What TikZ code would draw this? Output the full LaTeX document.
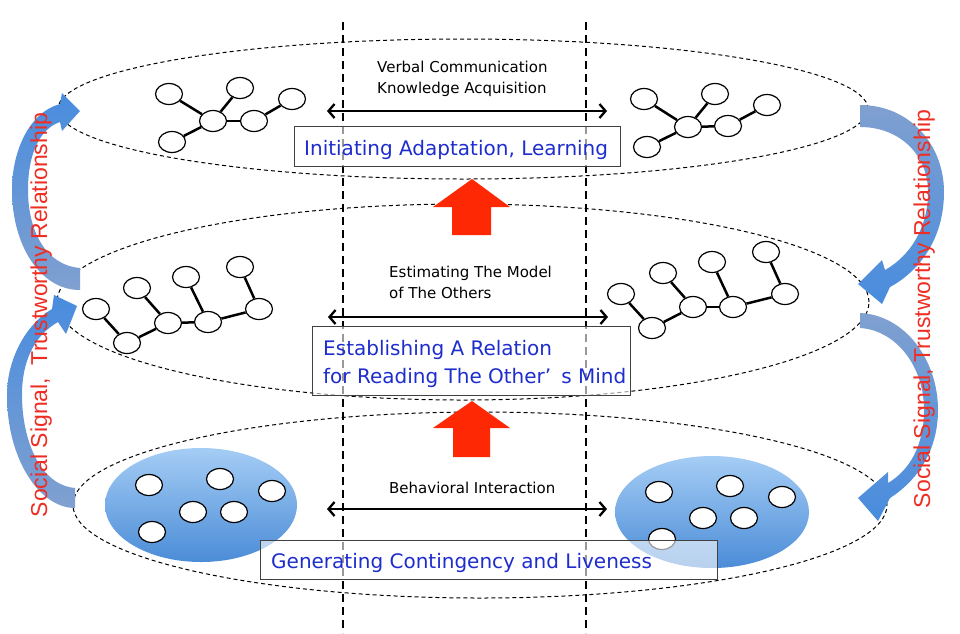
\documentclass[tikz,border=0pt]{standalone}
\usepackage{fontspec}
\setmainfont{DejaVu Sans}
\newfontfamily\redfont{Liberation Sans}
\usetikzlibrary{shapes.geometric,arrows.meta}
\definecolor{bluetxt}{RGB}{30,45,205}
\definecolor{redtxt}{RGB}{238,45,35}
\definecolor{redarr}{RGB}{255,40,5}
\definecolor{arrhead}{RGB}{72,140,222}
\definecolor{arrtail}{RGB}{128,160,208}
\definecolor{blobtop}{RGB}{165,205,245}
\definecolor{blobbot}{RGB}{75,140,215}
\begin{document}
\begin{tikzpicture}[x=1pt,y=-1pt,
  sm/.style={ellipse, draw=black, line width=1.2pt, fill=white, minimum width=27pt, minimum height=21pt, inner sep=0pt},
  link/.style={line width=2.5pt},
  guide/.style={dash pattern=on 8pt off 5pt, line width=2.3pt},
  layerline/.style={dash pattern=on 4pt off 3pt, line width=1pt},
  dbl/.style={{Straight Barb[length=6pt,width=14pt]}-{Straight Barb[length=6pt,width=14pt]}, line width=2.3pt},
  lbl/.style={font=\fontsize{15}{18}\selectfont, inner sep=0pt, anchor=base west},
  ttl/.style={font=\fontsize{20}{28}\selectfont, text=bluetxt, inner sep=0pt, anchor=base west},
  tbox/.style={draw=black!75, line width=0.9pt, fill=white, fill opacity=0.6},
  blob/.style={ellipse, draw=none, top color=blobtop, bottom color=blobbot, inner sep=0pt},
  sideup/.style={top color=arrhead, bottom color=arrtail, draw=none},
  sidedown/.style={top color=arrtail, bottom color=arrhead, draw=none},
  redlbl/.style={font=\redfont\fontsize{23}{26}\selectfont, text=redtxt, rotate=90, anchor=base, inner sep=0pt}
]
\useasboundingbox (0,0) rectangle (960,633);

% dashed layer ellipses
\draw[layerline] (463,109) ellipse [x radius=405pt, y radius=70pt];
\draw[layerline] (463,302) ellipse [x radius=406pt, y radius=98pt];
\draw[layerline] (480,505) ellipse [x radius=407pt, y radius=93pt];

% vertical dashed guides
\coordinate (g1t) at (343,22); \coordinate (g1b) at (343,633);
\coordinate (g2t) at (586,22); \coordinate (g2b) at (586,633);
\draw[guide] (g1t) -- (g1b);
\draw[guide] (g2t) -- (g2b);

% top trees
\node[sm] (t1) at (169,94) {};
\node[sm] (t2) at (240,88) {};
\node[sm] (t3) at (213,121) {};
\node[sm] (t4) at (254,121) {};
\node[sm] (t5) at (292,99) {};
\node[sm] (t6) at (172,142) {};
\draw[link] (t1) -- (t3); \draw[link] (t2) -- (t3); \draw[link] (t3) -- (t4);
\draw[link] (t4) -- (t5); \draw[link] (t3) -- (t6);

\node[sm] (u1) at (644,99) {};
\node[sm] (u2) at (715,94) {};
\node[sm] (u3) at (688,127) {};
\node[sm] (u4) at (728,126) {};
\node[sm] (u5) at (767,105) {};
\node[sm] (u6) at (647,147) {};
\draw[link] (u1) -- (u3); \draw[link] (u2) -- (u3); \draw[link] (u3) -- (u4);
\draw[link] (u4) -- (u5); \draw[link] (u3) -- (u6);

% middle trees
\node[sm] (a1) at (96,309) {};
\node[sm] (a2) at (127,343) {};
\node[sm] (a3) at (137,288) {};
\node[sm] (a4) at (168,323) {};
\node[sm] (a5) at (186,277) {};
\node[sm] (a6) at (208,322) {};
\node[sm] (a7) at (240,267) {};
\node[sm] (a8) at (259,309) {};
\draw[link] (a1) -- (a2); \draw[link] (a2) -- (a4); \draw[link] (a3) -- (a4);
\draw[link] (a4) -- (a6); \draw[link] (a5) -- (a6); \draw[link] (a6) -- (a8);
\draw[link] (a7) -- (a8);

\node[sm] (b1) at (621,294) {};
\node[sm] (b2) at (652,328) {};
\node[sm] (b3) at (663,273) {};
\node[sm] (b4) at (693,307) {};
\node[sm] (b5) at (712,262) {};
\node[sm] (b6) at (733,307) {};
\node[sm] (b7) at (766,252) {};
\node[sm] (b8) at (785,294) {};
\draw[link] (b1) -- (b2); \draw[link] (b2) -- (b4); \draw[link] (b3) -- (b4);
\draw[link] (b4) -- (b6); \draw[link] (b5) -- (b6); \draw[link] (b6) -- (b8);
\draw[link] (b7) -- (b8);

% bottom blobs
\node[blob, minimum width=192pt, minimum height=114pt] (blobL) at (201,505) {};
\node[blob, minimum width=194pt, minimum height=112pt] (blobR) at (712,512) {};
\node[sm] (c1) at (149,485) {};
\node[sm] (c2) at (220,479) {};
\node[sm] (c3) at (272,491) {};
\node[sm] (c4) at (193,512) {};
\node[sm] (c5) at (234,512) {};
\node[sm] (c6) at (152,532) {};
\node[sm] (d1) at (659,492) {};
\node[sm] (d2) at (730,486) {};
\node[sm] (d3) at (782,497) {};
\node[sm] (d4) at (703,518) {};
\node[sm] (d5) at (744,518) {};
\node[sm] (d6) at (662,539) {};

% double arrows
\coordinate (h1l) at (327,111); \coordinate (h1r) at (607,111);
\coordinate (h2l) at (328,317); \coordinate (h2r) at (608,317);
\coordinate (h3l) at (327,509); \coordinate (h3r) at (607,509);
\draw[dbl] (h1l) -- (h1r);
\draw[dbl] (h2l) -- (h2r);
\draw[dbl] (h3l) -- (h3r);

% labels
\node[lbl] (v1) at (377,72) {Verbal Communication};
\node[lbl] (v2) at (377,93) {Knowledge Acquisition};
\node[lbl] (e1) at (389,277) {Estimating The Model};
\node[lbl] (e2) at (389,298) {of The Others};
\node[lbl] (bi) at (389,493) {Behavioral Interaction};

% boxes with titles
\draw[tbox] (294,126) rectangle (620,166);
\node[ttl] (T1) at (304,155) {Initiating Adaptation, Learning};
\draw[tbox] (312,326) rectangle (630,395);
\node[ttl] (T2a) at (323,355) {Establishing A Relation};
\node[ttl] (T2b) at (323,383) {for Reading The Other’\kern0.5em s Mind};
\draw[tbox] (260,540) rectangle (717,579);
\node[ttl] (T3) at (271,568) {Generating Contingency and Liveness};

% red up arrows
\fill[redarr] (472,179) -- (510,207) -- (491,207) -- (491,235) -- (452,235) -- (452,207) -- (433,207) -- cycle;
\fill[redarr] (472,401) -- (510,428) -- (490,428) -- (490,457) -- (453,457) -- (453,428) -- (433,428) -- cycle;

% side curved arrows (left)
\shade[sideup] (80,268) .. controls (45,265) and (28,230) .. (28,190)
  .. controls (28,150) and (42,128) .. (60,122) -- (62,131) -- (80,111) -- (62,93) -- (60,104)
  .. controls (30,112) and (12,150) .. (12,190)
  .. controls (12,245) and (40,290) .. (80,290) -- cycle;
\shade[sideup] (75,488) .. controls (40,485) and (22,440) .. (22,395)
  .. controls (22,360) and (35,335) .. (58,322) -- (66,334) -- (77,306) -- (54,295) -- (52,309)
  .. controls (25,325) and (7,360) .. (7,395)
  .. controls (7,460) and (40,508) .. (75,508) -- cycle;
% side curved arrows (right)
\shade[sidedown] (860,105) .. controls (910,105) and (944,145) .. (944,192)
  .. controls (944,240) and (918,272) .. (890,287) -- (882,304) -- (858,284) -- (882,260) -- (885,270)
  .. controls (910,256) and (928,228) .. (928,192)
  .. controls (928,155) and (900,127) .. (860,127) -- cycle;
\shade[sidedown] (860,313) .. controls (905,315) and (938,360) .. (938,410)
  .. controls (938,450) and (918,480) .. (890,498) -- (878,521) -- (858,498) -- (888,472) -- (888,483)
  .. controls (910,470) and (924,445) .. (924,410)
  .. controls (924,365) and (895,330) .. (860,328) -- cycle;

% red vertical labels
\node[redlbl] (sl) at (47,315) {Social Signal,\ \ Trustworthy Relationship};
\node[redlbl] (sr) at (930,309) {Social Signal, Trustworthy Relationship};
\end{tikzpicture}
\end{document}
